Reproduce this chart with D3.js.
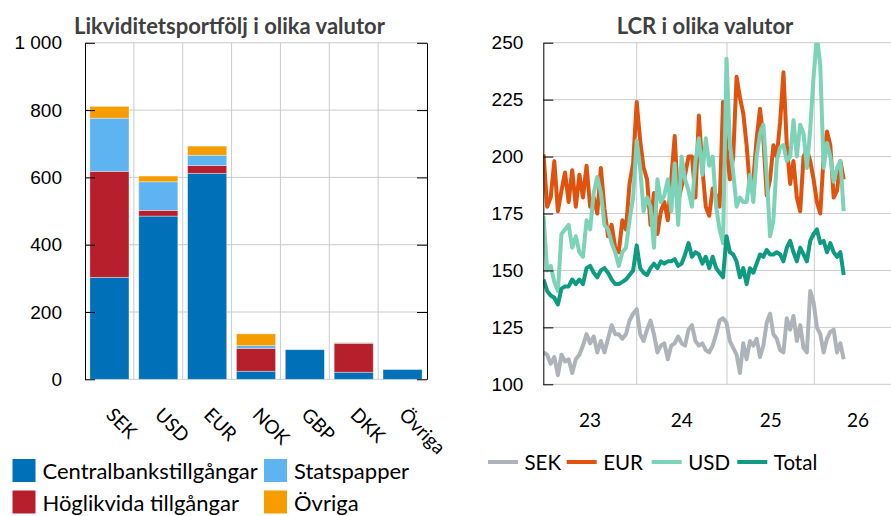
<!DOCTYPE html>
<html>
<head>
<meta charset="utf-8">
<script src="https://cdn.jsdelivr.net/npm/d3@7"></script>
<style>
  body { margin: 0; background: #fff; }
  svg { display: block; font-family: Lato, "Open Sans", sans-serif; }
</style>
</head>
<body>
<div id="chart"></div>
<script>
// vänster: likviditetsportfölj per valuta (mdr kr)
const currencies = ["SEK", "USD", "EUR", "NOK", "GBP", "DKK", "Övriga"];
const centralbank = [303, 485, 612, 24, 88, 21, 29];
const hoglikvida = [315, 17, 23, 68, 0, 86, 0];
const statspapper = [158, 85, 31, 8, 0, 2, 0];
const ovriga = [35, 17, 27, 35, 0, 1, 0];
const leftTicks = [0, 200, 400, 600, 800, 1000];
const portfolioSeries = ["Centralbankstillgångar", "Höglikvida tillgångar", "Statspapper", "Övriga"];

// höger: LCR, varannan vecka från jan 2023
const lcrStart = "2023-01-02";
const lcrStepDays = 14;
const sek = [114,113,109,112,104,113,110,111,105,111,113,117,122,118,121,114,119,114,120,126,122,122,120,122,128,131,133,
  122,119,124,128,122,114,117,118,111,117,118,121,118,117,124,126,119,117,118,115,114,117,122,128,129,127,
  119,116,113,105,118,111,119,117,120,112,117,127,131,122,120,115,114,129,124,130,119,126,116,114,141,136,
  125,122,114,120,123,124,114,118,111];
const eur = [201,178,182,198,176,185,193,180,194,178,192,182,196,178,182,175,195,177,165,170,160,158,172,168,188,197,224,
  207,195,190,170,184,166,176,180,172,190,209,180,187,192,200,200,182,218,195,178,174,186,183,178,224,204,
  190,200,235,226,219,205,186,190,208,221,208,183,190,205,200,215,237,205,188,198,182,176,200,203,198,190,
  180,175,200,211,205,182,185,198,190];
const usd = [174,150,152,145,141,166,168,170,160,165,158,156,172,168,184,191,184,170,168,162,158,152,158,160,172,182,207,
  195,176,182,178,160,190,180,183,190,176,197,170,200,190,185,178,198,208,192,208,196,200,178,168,162,243,
  206,193,178,182,180,180,192,180,200,210,214,192,165,172,198,204,205,198,200,216,200,214,210,195,212,235,
  253,240,195,206,200,189,195,198,176];
const total = [146,141,139,138,135,142,143,143,146,144,146,144,151,152,149,147,150,151,149,146,144,144,145,146,148,150,161,
  151,149,148,151,153,151,154,153,154,154,155,152,153,157,162,156,158,157,153,156,151,156,151,149,147,165,
  158,157,154,147,151,144,151,149,153,157,156,159,157,157,158,157,154,160,163,158,154,160,157,154,163,166,
  168,162,163,158,162,158,156,158,148];
const rightTicks = [100, 125, 150, 175, 200, 225, 250];
const years = [2023, 2024, 2025, 2026, 2027];
const yearLabels = ["23", "24", "25", "26"];

const colors = {
  "Centralbankstillgångar": "#0070B8",
  "Höglikvida tillgångar": "#B81F2D",
  "Statspapper": "#5EB4F0",
  "Övriga": "#F59C00"
};
const lineColors = { SEK: "#AEB3BA", EUR: "#E0530F", USD: "#7DD3B8", Total: "#0F9A82" };
const gridColor = "#CBCBCB";

const width = 891, height = 516;
const svg = d3.select("#chart").append("svg")
  .attr("width", width)
  .attr("height", height);

const sv = d3.formatLocale({ decimal: ",", thousands: "\u00a0", grouping: [3], currency: ["", " kr"] });
const fmt = sv.format(",");

// ---------- vänster diagram ----------
const L = { left: 85, right: 427, top: 42.8, bottom: 379.3 };

const x = d3.scaleBand()
  .domain(currencies)
  .range([L.left, L.right])
  .paddingInner(0.2)
  .paddingOuter(0.1);

const y = d3.scaleLinear()
  .domain([0, 1000])
  .range([L.bottom, L.top]);

const gl = svg.append("g");

// rutnät
gl.append("g").selectAll("line")
  .data(leftTicks)
  .join("line")
  .attr("x1", L.left).attr("x2", L.right)
  .attr("y1", d => y(d)).attr("y2", d => y(d))
  .attr("stroke", gridColor);

const step = x.step();
gl.append("g").selectAll("line")
  .data(currencies.slice(1))
  .join("line")
  .attr("x1", d => x(d) - step * x.paddingInner() / 2)
  .attr("x2", d => x(d) - step * x.paddingInner() / 2)
  .attr("y1", L.top).attr("y2", L.bottom)
  .attr("stroke", gridColor);

// staplar
const rows = currencies.map((c, i) => ({
  currency: c,
  "Centralbankstillgångar": centralbank[i],
  "Höglikvida tillgångar": hoglikvida[i],
  "Statspapper": statspapper[i],
  "Övriga": ovriga[i]
}));
const stacked = d3.stack().keys(portfolioSeries)(rows);

gl.append("g").selectAll("g")
  .data(stacked)
  .join("g")
  .attr("fill", d => colors[d.key])
  .selectAll("rect")
  .data(d => d.filter(p => p[1] - p[0] > 0))
  .join("rect")
  .attr("x", d => x(d.data.currency))
  .attr("width", x.bandwidth())
  .attr("y", d => y(d[1]))
  .attr("height", d => y(d[0]) - y(d[1]))
  .attr("stroke", "#ffffff")
  .attr("stroke-opacity", 0.45)
  .attr("stroke-width", 0.8);

// axlar
gl.append("g")
  .attr("transform", `translate(${L.left},0)`)
  .call(d3.axisLeft(y).tickValues(leftTicks).tickFormat(fmt).tickSizeInner(-10).tickSizeOuter(0).tickPadding(23))
  .call(g => g.select(".domain").attr("stroke", "#000"))
  .call(g => g.selectAll("text").attr("font-size", 19).attr("fill", "#000").attr("font-family", null));

gl.append("g")
  .attr("transform", `translate(${L.right},0)`)
  .call(d3.axisRight(y).tickValues(leftTicks).tickFormat("").tickSizeInner(-10).tickSizeOuter(0))
  .call(g => g.select(".domain").attr("stroke", "#000"));

gl.append("g").selectAll("text")
  .data(currencies)
  .join("text")
  .attr("transform", d => `translate(${x(d) + x.bandwidth() / 2 - 4.5},416) rotate(45)`)
  .attr("font-size", 19)
  .attr("fill", "#000")
  .text(d => d);

gl.append("text")
  .attr("x", 229.5)
  .attr("y", 34)
  .attr("text-anchor", "middle")
  .attr("font-size", 22)
  .attr("font-weight", "bold")
  .attr("fill", "#404040")
  .text("Likviditetsportfölj i olika valutor");

// legend
const legendOrder = ["Centralbankstillgångar", "Statspapper", "Höglikvida tillgångar", "Övriga"];
const leg = gl.append("g").selectAll("g")
  .data(legendOrder)
  .join("g")
  .attr("transform", (d, i) => `translate(${i % 2 ? 264 : 12.5},${i < 2 ? 459 : 490.5})`);
leg.append("rect").attr("width", 23).attr("height", 23).attr("fill", d => colors[d]);
leg.append("text").attr("x", 30).attr("y", 20).attr("font-size", 22).attr("fill", "#000").text(d => d);

// ---------- höger diagram ----------
const R = { left: 543.3, right: 891, top: 42.7, bottom: 384.3 };

const dates = sek.map((v, i) => d3.timeDay.offset(new Date(lcrStart), i * lcrStepDays));
const xr = d3.scaleTime()
  .domain(years.map(yr => new Date(yr, 0, 1)))
  .range([R.left, 636.7, 727, 814.3, 901.6]);
const yr = d3.scaleLinear()
  .domain([100, 250])
  .range([R.bottom, R.top]);

const gr = svg.append("g");

gr.append("g").selectAll("line")
  .data(rightTicks)
  .join("line")
  .attr("x1", R.left).attr("x2", R.right)
  .attr("y1", d => yr(d)).attr("y2", d => yr(d))
  .attr("stroke", gridColor);

gr.append("g").selectAll("line")
  .data(years.slice(1, 4))
  .join("line")
  .attr("x1", d => xr(new Date(d, 0, 1))).attr("x2", d => xr(new Date(d, 0, 1)))
  .attr("y1", R.top).attr("y2", R.bottom)
  .attr("stroke", gridColor);

svg.append("clipPath").attr("id", "clipR")
  .append("rect")
  .attr("x", R.left).attr("y", R.top)
  .attr("width", R.right - R.left).attr("height", R.bottom - R.top);

const lineGen = d3.line()
  .x((d, i) => xr(dates[i]))
  .y(d => yr(d))
  .curve(d3.curveLinear);

const lineSeries = [["SEK", sek], ["EUR", eur], ["USD", usd], ["Total", total]];
gr.append("g").attr("clip-path", "url(#clipR)")
  .selectAll("path")
  .data(lineSeries)
  .join("path")
  .attr("fill", "none")
  .attr("stroke", d => lineColors[d[0]])
  .attr("stroke-width", 4)
  .attr("stroke-linejoin", "round")
  .attr("d", d => lineGen(d[1]));

gr.append("g")
  .attr("transform", `translate(${R.left},0)`)
  .call(d3.axisLeft(yr).tickValues(rightTicks).tickSizeInner(-10).tickSizeOuter(0).tickPadding(20))
  .call(g => g.select(".domain").attr("stroke", "#000"))
  .call(g => g.selectAll("text").attr("font-size", 19).attr("fill", "#000").attr("font-family", null));

gr.append("g").selectAll("text")
  .data(yearLabels)
  .join("text")
  .attr("x", (d, i) => (xr(new Date(years[i], 0, 1)) + xr(new Date(years[i + 1], 0, 1))) / 2)
  .attr("y", 427)
  .attr("text-anchor", "middle")
  .attr("font-size", 19)
  .attr("fill", "#000")
  .text(d => d);

gr.append("text")
  .attr("x", 705)
  .attr("y", 34)
  .attr("text-anchor", "middle")
  .attr("font-size", 22)
  .attr("font-weight", "bold")
  .attr("fill", "#404040")
  .text("LCR i olika valutor");

const legX = [488, 566.7, 651.7, 737.3];
const lleg = gr.append("g").selectAll("g")
  .data(lineSeries.map(d => d[0]))
  .join("g")
  .attr("transform", (d, i) => `translate(${legX[i]},462)`);
lleg.append("line").attr("x2", 30).attr("stroke", d => lineColors[d]).attr("stroke-width", 4);
lleg.append("text").attr("x", 36.5).attr("y", 8).attr("font-size", 20.5).attr("fill", "#000").text(d => d);
</script>
</body>
</html>
